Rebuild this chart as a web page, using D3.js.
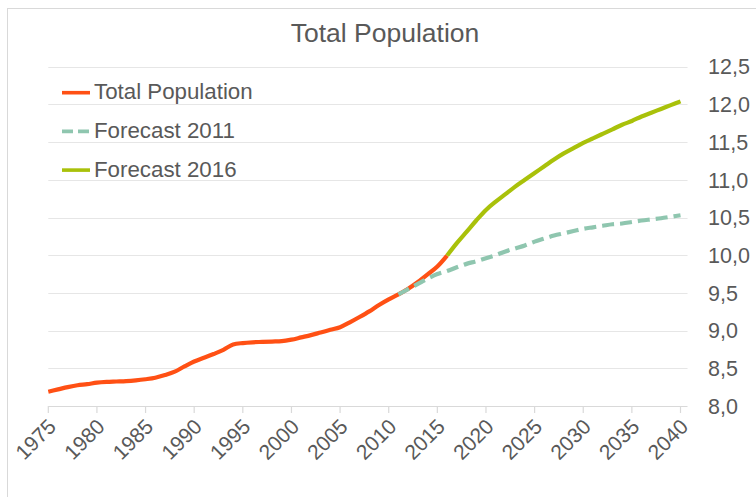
<!DOCTYPE html>
<html>
<head>
<meta charset="utf-8">
<script src="https://cdn.jsdelivr.net/npm/d3@7"></script>
<style>
  body { margin: 0; background: #fff; }
  svg { display: block; font-family: "Liberation Sans", Arial, sans-serif; }
</style>
</head>
<body>
<svg width="756" height="497"></svg>
<script>
// Total population (millions), one value per year from 1975
const popStart = 1975;
const totalPopulation = [8.19, 8.22, 8.25, 8.275, 8.29, 8.31, 8.32, 8.325, 8.33, 8.34,
    8.355, 8.375, 8.41, 8.455, 8.525, 8.59, 8.64, 8.69, 8.745, 8.815,
    8.835, 8.845, 8.85, 8.855, 8.86, 8.88, 8.91, 8.94, 8.975, 9.01,
    9.045, 9.11, 9.18, 9.255, 9.34, 9.415, 9.48, 9.555, 9.645, 9.745,
    9.85, 9.995];

// Forecast 2011, from 2011
const f2011Start = 2011;
const forecast2011 = [9.48, 9.55, 9.62, 9.69, 9.75, 9.79, 9.84, 9.885, 9.92, 9.96,
    10.0, 10.05, 10.09, 10.13, 10.18, 10.22, 10.26, 10.29, 10.32, 10.35,
    10.37, 10.39, 10.41, 10.42, 10.44, 10.46, 10.475, 10.49, 10.51, 10.53];

// Forecast 2016, from 2016
const f2016Start = 2016;
const forecast2016 = [9.995, 10.16, 10.31, 10.46, 10.6, 10.71, 10.81, 10.91, 11.0, 11.09,
    11.18, 11.27, 11.35, 11.42, 11.49, 11.55, 11.61, 11.67, 11.73, 11.78,
    11.84, 11.89, 11.94, 11.99, 12.04];

const tickYears = [1975, 1980, 1985, 1990, 1995, 2000, 2005, 2010, 2015, 2020, 2025, 2030, 2035, 2040];
const yTicks = [8.0, 8.5, 9.0, 9.5, 10.0, 10.5, 11.0, 11.5, 12.0, 12.5];

// drawing order: actual first, forecasts on top
const series = [
    { name: "Total Population", start: popStart, values: totalPopulation, color: "#ff5014", dash: null },
    { name: "Forecast 2011", start: f2011Start, values: forecast2011, color: "#8fc6af", dash: "12,6" },
    { name: "Forecast 2016", start: f2016Start, values: forecast2016, color: "#a9c10a", dash: null }
];

const commaFmt = d3.formatLocale({ decimal: ",", thousands: ".", grouping: [3], currency: ["", ""] }).format(".1f");

function draw() {
    const svg = d3.select("svg");
    const textColor = "#595959";

    // outer frame (only top/left visible)
    svg.append("rect").attr("x", 7.5).attr("y", 8.5).attr("width", 800).attr("height", 600)
        .attr("fill", "none").attr("stroke", "#d9d9d9");

    const x = d3.scaleLinear().domain([1975, 2040]).range([48.3, 680.5]);
    const y = d3.scaleLinear().domain([8, 12.5]).range([406, 66.7]);
    const gridEnd = x(2040) + 7;

    // horizontal gridlines
    svg.append("g").selectAll("line").data(yTicks).enter().append("line")
        .attr("x1", x(1975)).attr("x2", gridEnd)
        .attr("y1", d => Math.round(y(d)) + 0.5).attr("y2", d => Math.round(y(d)) + 0.5)
        .attr("stroke", d => d === 8 ? "#d9d9d9" : "#e6e6e6").attr("stroke-width", 1.2);

    // x axis tick marks + rotated labels
    const xa = svg.append("g");
    xa.selectAll("line").data(tickYears).enter().append("line")
        .attr("x1", d => x(d)).attr("x2", d => x(d))
        .attr("y1", y(8)).attr("y2", y(8) + 7)
        .attr("stroke", "#d9d9d9").attr("stroke-width", 1.2);
    xa.selectAll("text").data(tickYears).enter().append("text")
        .attr("transform", d => "translate(" + (x(d) + 9) + "," + (y(8) + 22) + ") rotate(-45)")
        .attr("text-anchor", "end")
        .attr("font-size", 21).attr("fill", textColor)
        .text(d => d);

    // right y labels
    svg.append("g").selectAll("text").data(yTicks).enter().append("text")
        .attr("x", 708).attr("y", d => y(d)).attr("dy", "0.36em")
        .attr("font-size", 21.5).attr("fill", textColor)
        .text(d => commaFmt(d));

    // lines
    series.forEach(s => {
        const pts = s.values.map((v, i) => [s.start + i, v]);
        svg.append("path")
            .datum(pts)
            .attr("d", d3.line().x(d => x(d[0])).y(d => y(d[1])).curve(d3.curveMonotoneX))
            .attr("fill", "none").attr("stroke", s.color).attr("stroke-width", 4.2)
            .attr("stroke-dasharray", s.dash)
            .attr("stroke-linejoin", "round");
    });

    // title
    svg.append("text").attr("x", 385).attr("y", 42).attr("text-anchor", "middle")
        .attr("font-size", 26.5).attr("fill", textColor).text("Total Population");

    // legend
    const leg = svg.append("g").selectAll("g").data(series).enter().append("g")
        .attr("transform", (d, i) => "translate(0," + (92.7 + i * 38.7) + ")");
    leg.append("line").attr("x1", 62).attr("x2", 90).attr("y1", 0).attr("y2", 0)
        .attr("stroke", d => d.color)
        .attr("stroke-width", 3.6)
        .attr("stroke-dasharray", d => d.dash ? "11,5" : null);
    leg.append("text").attr("x", 94).attr("y", 6.6)
        .attr("font-size", 22.3).attr("fill", textColor).text(d => d.name);
}

draw();
</script>
</body>
</html>
